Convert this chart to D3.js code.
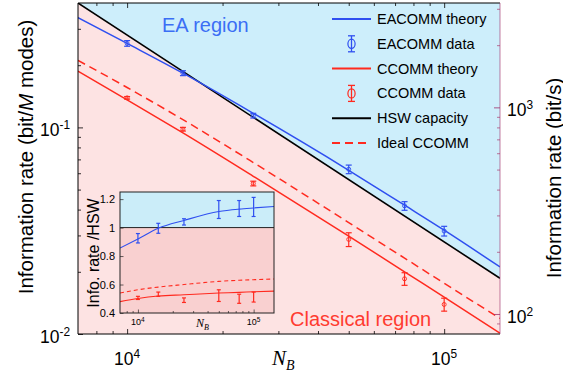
<!DOCTYPE html>
<html>
<head>
<meta charset="utf-8">
<script src="https://cdn.jsdelivr.net/npm/d3@7"></script>
<style>
  body { margin: 0; background: #fff; }
  text { font-family: "Liberation Sans", Arial, Helvetica, sans-serif; fill: #000; }
</style>
</head>
<body>
<svg id="chart" width="563" height="377"></svg>
<script>
// Measured N_B values and information rates (bit / M modes)
const nbData = [1e4, 1.5e4, 2.5e4, 5e4, 7.5e4, 1e5];
const eaData = [0.255, 0.183, 0.114, 0.0627, 0.0417, 0.0315];
const eaErr = [0.008, 0.005, 0.003, 0.003, 0.002, 0.0017];
const ccData = [0.139, 0.098, 0.0535, 0.0287, 0.0185, 0.0139];
const ccErr = [0.002, 0.002, 0.0014, 0.0022, 0.0013, 0.001];

// Theory curves
const nbTheory = [7000, 1e4, 1.5e4, 2.5e4, 5e4, 7.5e4, 1e5, 1.5e5];
const eaTheory = [0.340, 0.255, 0.183, 0.117, 0.0620, 0.0420, 0.0318, 0.0211];
const ccTheory = [0.187, 0.136, 0.0940, 0.0580, 0.0298, 0.0200, 0.0151, 0.0101];
const ccIdeal = [0.211, 0.156, 0.109, 0.0676, 0.0346, 0.0233, 0.0176, 0.0119];
const hswN = [7000, 1.5e5];
const hswRate = [0.4, 0.0186];

// Inset: rate normalised to HSW
const ratioEa = [0.925, 0.995, 1.04, 1.127, 1.134, 1.145];
const ratioEaErr = [0.033, 0.035, 0.022, 0.063, 0.056, 0.067];
const ratioCc = [0.506, 0.532, 0.49, 0.522, 0.50, 0.512];
const ratioCcErr = [0.011, 0.015, 0.016, 0.041, 0.032, 0.035];
const ratioEaTheory = [0.856, 0.92, 0.995, 1.05, 1.113, 1.13, 1.138, 1.148];
const ratioCcTheory = [0.48, 0.502, 0.519, 0.528, 0.54, 0.545, 0.549, 0.554];
const ratioCcIdeal = [0.54, 0.563, 0.582, 0.60, 0.622, 0.63, 0.634, 0.639];

// Tick values
const xMajor = [1e4, 1e5];
const xMinor = [8000, 9000, 2e4, 3e4, 4e4, 5e4, 6e4, 7e4, 8e4, 9e4];
const yMajor = [0.01, 0.1];
const yMinor = [0.02, 0.03, 0.04, 0.05, 0.06, 0.07, 0.08, 0.09, 0.2, 0.3];
const yRMajor = [100, 1000];
const yRMinor = [90, 200, 300, 400, 500, 600, 700, 800, 900, 2000, 3000];
const insetYTicks = [0.4, 0.6, 0.8, 1, 1.2];

const BLUE = '#2f4ff0';
const RED = '#ff2a1f';
const BG_BLUE = '#cdeefb';
const BG_PINK = '#fde3e3';

const svg = d3.select('#chart');
const box = { l: 78, r: 500, t: 3, b: 334 };

const x = d3.scaleLog().domain([7000, 150000]).range([box.l, box.r]);
const y = d3.scaleLog().domain([0.01, 0.4]).range([box.b, box.t]);
const yR = d3.scaleLog().domain([80, 3200]).range([box.b, box.t]);

svg.append('clipPath').attr('id', 'clip-main')
  .append('rect').attr('x', box.l).attr('y', box.t)
  .attr('width', box.r - box.l).attr('height', box.b - box.t);

// Region backgrounds: pink below HSW, blue above
svg.append('rect')
  .attr('x', box.l).attr('y', box.t)
  .attr('width', box.r - box.l).attr('height', box.b - box.t)
  .attr('fill', BG_PINK);
const h0 = [x(hswN[0]), y(hswRate[0])];
const h1 = [x(hswN[1]), y(hswRate[1])];
svg.append('path')
  .attr('d', `M${box.l},${box.t}L${h0}L${h1}L${box.r},${box.t}Z`)
  .attr('fill', BG_BLUE);

function drawLine(g, xs, ys, xs_, ys_, color, width, dash) {
  const line = d3.line()
    .x((d) => xs_(d[0]))
    .y((d) => ys_(d[1]))
    .curve(d3.curveMonotoneX);
  g.append('path')
    .datum(xs.map((v, i) => [v, ys[i]]))
    .attr('d', line)
    .attr('fill', 'none')
    .attr('stroke', color)
    .attr('stroke-width', width)
    .attr('stroke-dasharray', dash || null);
}

function drawErr(g, xs, ys, errs, xs_, ys_, color, capW, r, width) {
  xs.forEach((v, i) => {
    const cx = xs_(v);
    const top = ys_(ys[i] + errs[i]);
    const bot = ys_(ys[i] - errs[i]);
    g.append('line').attr('x1', cx).attr('x2', cx).attr('y1', top).attr('y2', bot)
      .attr('stroke', color).attr('stroke-width', width);
    [top, bot].forEach((yy) => {
      g.append('line').attr('x1', cx - capW / 2).attr('x2', cx + capW / 2)
        .attr('y1', yy).attr('y2', yy)
        .attr('stroke', color).attr('stroke-width', width);
    });
    if (r > 0) {
      g.append('circle').attr('cx', cx).attr('cy', ys_(ys[i])).attr('r', r)
        .attr('fill', 'none').attr('stroke', color).attr('stroke-width', 0.9);
    }
  });
}

const plot = svg.append('g').attr('clip-path', 'url(#clip-main)');
drawLine(plot, hswN, hswRate, x, y, '#000', 1.6);
drawLine(plot, nbTheory, eaTheory, x, y, BLUE, 1.5);
drawLine(plot, nbTheory, ccIdeal, x, y, RED, 1.5, '8,5');
drawLine(plot, nbTheory, ccTheory, x, y, RED, 1.5);
drawErr(plot, nbData, eaData, eaErr, x, y, BLUE, 6, 2, 1.2);
drawErr(plot, nbData, ccData, ccErr, x, y, RED, 6, 2, 1.2);

// Region labels
svg.append('text').attr('x', 162).attr('y', 32).attr('font-size', 20)
  .style('fill', '#3b6ef5').text('EA region');
svg.append('text').attr('x', 290).attr('y', 326).attr('font-size', 20)
  .style('fill', '#ff3b30').text('Classical region');

// Axes (ticks point inward)
function ticks(axis, transform, values, size, color) {
  const g = svg.append('g').attr('transform', transform)
    .call(axis.tickValues(values).tickSize(size).tickSizeOuter(0).tickFormat(''));
  g.select('.domain').remove();
  g.selectAll('.tick line').attr('stroke', color || '#000').attr('stroke-width', 0.8);
  return g;
}
ticks(d3.axisTop(x), `translate(0,${box.b})`, xMinor, 3);
ticks(d3.axisTop(x), `translate(0,${box.b})`, xMajor, 5);
ticks(d3.axisBottom(x), `translate(0,${box.t})`, xMinor, 3);
ticks(d3.axisBottom(x), `translate(0,${box.t})`, xMajor, 5);
ticks(d3.axisRight(y), `translate(${box.l},0)`, yMinor, 3);
ticks(d3.axisRight(y), `translate(${box.l},0)`, yMajor, 5);
ticks(d3.axisLeft(yR), `translate(${box.r},0)`, yRMinor, 3, '#b0507e');
ticks(d3.axisLeft(yR), `translate(${box.r},0)`, yRMajor, 6, '#a0306a');

// Frame
svg.append('path')
  .attr('d', `M${box.r},${box.t}L${box.l},${box.t}L${box.l},${box.b}L${box.r},${box.b}`)
  .attr('fill', 'none').attr('stroke', '#000').attr('stroke-width', 1);
svg.append('line').attr('x1', box.r).attr('x2', box.r).attr('y1', box.t).attr('y2', box.b)
  .attr('stroke', '#a0306a').attr('stroke-opacity', 0.45).attr('stroke-width', 1.4);

function powLabel(px, py, exp, size, anchor) {
  const t = svg.append('text').attr('x', px).attr('y', py)
    .attr('text-anchor', anchor).attr('font-size', size);
  t.append('tspan').text('10');
  t.append('tspan').attr('dy', -size * 0.42).attr('font-size', size * 0.68).text(exp);
  return t;
}
xMajor.forEach((v) => powLabel(x(v), 365, Math.round(Math.log10(v)), 17.5, 'middle'));
yMajor.forEach((v) => powLabel(70, y(v) + 9, Math.round(Math.log10(v)), 17.5, 'end'));
yRMajor.forEach((v) => powLabel(507, yR(v) + 9, Math.round(Math.log10(v)), 17.5, 'start'));

// Axis titles
const xt = svg.append('text').attr('x', 272).attr('y', 365)
  .style('font-family', '"Liberation Serif", "Times New Roman", serif')
  .attr('font-style', 'italic').attr('font-size', 21);
xt.append('tspan').text('N');
xt.append('tspan').attr('dy', 5).attr('font-size', 14).text('B');

const ylt = svg.append('text').attr('transform', 'translate(25,157) rotate(-90)')
  .attr('text-anchor', 'middle').attr('dominant-baseline', 'central').attr('font-size', 20.5);
ylt.append('tspan').text('Information rate (bit/');
ylt.append('tspan').attr('font-style', 'italic').text('M');
ylt.append('tspan').text(' modes)');

svg.append('text').attr('transform', 'translate(553,178) rotate(-90)')
  .attr('text-anchor', 'middle').attr('dominant-baseline', 'central').attr('font-size', 20.5)
  .text('Information rate (bit/s)');

// Legend
const legendItems = [
  { label: 'EACOMM theory', type: 'line', color: BLUE },
  { label: 'EACOMM data', type: 'err', color: BLUE },
  { label: 'CCOMM theory', type: 'line', color: RED },
  { label: 'CCOMM data', type: 'err', color: RED },
  { label: 'HSW capacity', type: 'line', color: '#000' },
  { label: 'Ideal CCOMM', type: 'dash', color: RED },
];
const legend = svg.append('g');
legendItems.forEach((d, i) => {
  const ly = 19 + i * 24.8;
  if (d.type === 'err') {
    legend.append('line').attr('x1', 351.5).attr('x2', 351.5).attr('y1', ly - 8).attr('y2', ly + 8)
      .attr('stroke', d.color).attr('stroke-width', 1.3);
    [ly - 8, ly + 8].forEach((yy) => legend.append('line')
      .attr('x1', 348).attr('x2', 355).attr('y1', yy).attr('y2', yy)
      .attr('stroke', d.color).attr('stroke-width', 1.3));
    legend.append('ellipse').attr('cx', 351.5).attr('cy', ly).attr('rx', 3.6).attr('ry', 4.6)
      .attr('fill', 'none').attr('stroke', d.color).attr('stroke-width', 1.2);
  } else {
    legend.append('line').attr('x1', 332).attr('x2', 371).attr('y1', ly).attr('y2', ly)
      .attr('stroke', d.color).attr('stroke-width', 2)
      .attr('stroke-dasharray', d.type === 'dash' ? '8,5' : null);
  }
  legend.append('text').attr('x', 377).attr('y', ly).attr('dominant-baseline', 'central')
    .attr('font-size', 14.5).text(d.label);
});

// Inset
const ib = { l: 120, r: 274, t: 192, b: 313 };
const xi = d3.scaleLog().domain([7000, 150000]).range([ib.l, ib.r]);
const yi = d3.scaleLinear().domain([0.4, 1.25]).range([ib.b, ib.t]);
const inset = svg.append('g');
svg.append('clipPath').attr('id', 'clip-inset')
  .append('rect').attr('x', ib.l).attr('y', ib.t)
  .attr('width', ib.r - ib.l).attr('height', ib.b - ib.t);
inset.append('rect').attr('x', ib.l).attr('y', ib.t)
  .attr('width', ib.r - ib.l).attr('height', ib.b - ib.t).attr('fill', '#f9d0d0');
inset.append('rect').attr('x', ib.l).attr('y', ib.t)
  .attr('width', ib.r - ib.l).attr('height', yi(1) - ib.t).attr('fill', '#cbedf9');
inset.append('line').attr('x1', ib.l).attr('x2', ib.r).attr('y1', yi(1)).attr('y2', yi(1))
  .attr('stroke', '#222').attr('stroke-width', 1);
const insetPlot = inset.append('g').attr('clip-path', 'url(#clip-inset)');
drawLine(insetPlot, nbTheory, ratioEaTheory, xi, yi, BLUE, 1.1);
drawLine(insetPlot, nbTheory, ratioCcIdeal, xi, yi, RED, 1.1, '4,3');
drawLine(insetPlot, nbTheory, ratioCcTheory, xi, yi, RED, 1.1);
drawErr(insetPlot, nbData, ratioEa, ratioEaErr, xi, yi, BLUE, 4, 0, 1.2);
drawErr(insetPlot, nbData, ratioCc, ratioCcErr, xi, yi, RED, 4, 0, 1.2);

function insetTicks(axis, transform, values, size) {
  const g = inset.append('g').attr('transform', transform)
    .call(axis.tickValues(values).tickSize(size).tickSizeOuter(0).tickFormat(''));
  g.select('.domain').remove();
  g.selectAll('.tick line').attr('stroke', '#222').attr('stroke-width', 0.7);
}
insetTicks(d3.axisTop(xi), `translate(0,${ib.b})`, xMinor, 2);
insetTicks(d3.axisTop(xi), `translate(0,${ib.b})`, xMajor, 3.5);
insetTicks(d3.axisRight(yi), `translate(${ib.l},0)`, insetYTicks, 3.5);
inset.append('rect').attr('x', ib.l).attr('y', ib.t)
  .attr('width', ib.r - ib.l).attr('height', ib.b - ib.t)
  .attr('fill', 'none').attr('stroke', '#222').attr('stroke-width', 1);

insetYTicks.forEach((v) => {
  inset.append('text').attr('x', 115).attr('y', yi(v) + 4).attr('text-anchor', 'end')
    .attr('font-size', 11).text(d3.format('~g')(v));
});
xMajor.forEach((v) => {
  const t = inset.append('text').attr('x', xi(v)).attr('y', 325)
    .attr('text-anchor', 'middle').attr('font-size', 9);
  t.append('tspan').text('10');
  t.append('tspan').attr('dy', -3.5).attr('font-size', 6.5).text(Math.round(Math.log10(v)));
});
const ixt = inset.append('text').attr('x', 196).attr('y', 327)
  .style('font-family', '"Liberation Serif", "Times New Roman", serif')
  .attr('font-style', 'italic').attr('font-size', 12);
ixt.append('tspan').text('N');
ixt.append('tspan').attr('dy', 3).attr('font-size', 8).text('B');
inset.append('text').attr('transform', 'translate(93,253) rotate(-90)')
  .attr('text-anchor', 'middle').attr('dominant-baseline', 'central').attr('font-size', 16)
  .text('Info. rate /HSW');
</script>
</body>
</html>
